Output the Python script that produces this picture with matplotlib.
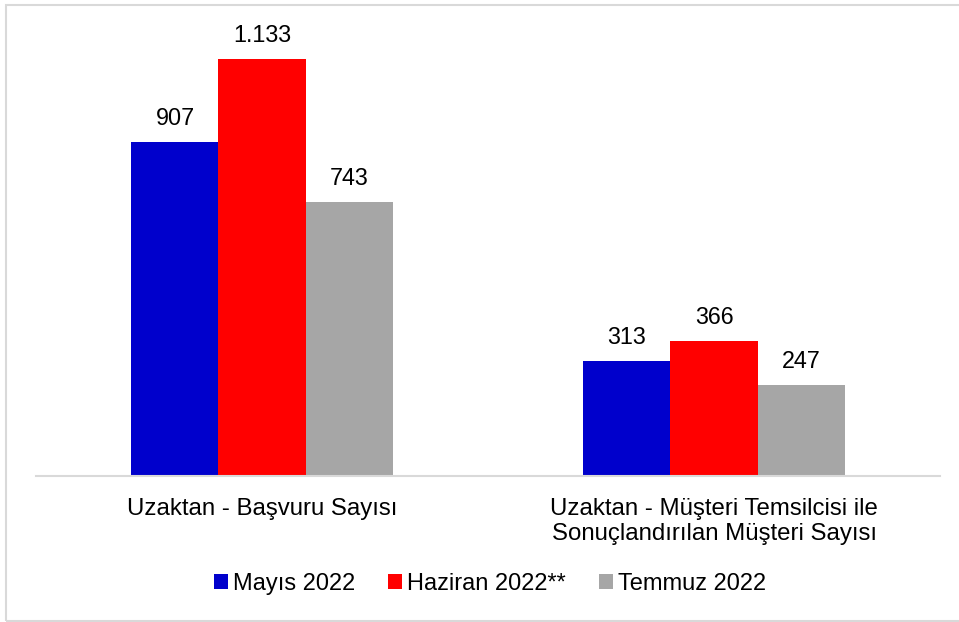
import numpy as np
import matplotlib.pyplot as plt
from matplotlib.patches import Patch, Rectangle

categories = ["Uzaktan - Başvuru Sayısı",
              "Uzaktan - Müşteri Temsilcisi ile\nSonuçlandırılan Müşteri Sayısı"]
series = ["Mayıs 2022", "Haziran 2022**", "Temmuz 2022"]
mayis = [907, 313]
haziran = [1133, 366]
temmuz = [743, 247]
labels_mayis = ["907", "313"]
labels_haziran = ["1.133", "366"]
labels_temmuz = ["743", "247"]

colors = ["#0000CC", "#FF0000", "#A6A6A6"]

plt.rcParams['font.family'] = ['Liberation Sans', 'DejaVu Sans']

fig = plt.figure(figsize=(9.59, 6.22), dpi=100)
# outer frame (right side runs off the picture)
fig.patches.append(Rectangle((6 / 959, 1 / 622), 1.05, 616 / 622, transform=fig.transFigure,
                             fill=False, edgecolor="#D9D9D9", linewidth=1.5))

ax = fig.add_axes([36 / 959, 1 - 476 / 622, 904 / 959, 442 / 622])

x = np.arange(len(categories))
w = 0.1925
values = [mayis, haziran, temmuz]
texts = [labels_mayis, labels_haziran, labels_temmuz]
for i, (vals, lbls) in enumerate(zip(values, texts)):
	bars = ax.bar(x + (i - 1) * w, vals, width=w, color=colors[i], label=series[i])
	for b, t in zip(bars, lbls):
		ax.annotate(t, (b.get_x() + b.get_width() / 2, b.get_height()),
		            xytext=(0, 12), textcoords="offset pixels",
		            ha="center", va="bottom", fontsize=16.8, color="#000000")

ax.set_xlim(-0.5, 1.5)
ax.set_ylim(0, 1200)
ax.set_yticks([])
ax.set_xticks(x)
ax.set_xticklabels(categories, fontsize=17.3, linespacing=1.2, va="top")
ax.tick_params(axis="x", length=0, pad=15.5)
for s in ["top", "right", "left"]:
	ax.spines[s].set_visible(False)
ax.spines["bottom"].set_color("#D9D9D9")
ax.spines["bottom"].set_linewidth(1.5)

handles = [Patch(facecolor=c) for c in colors]
fig.legend(handles, series, loc="center", bbox_to_anchor=(0.511, 1 - 584 / 622), ncol=3,
           frameon=False, fontsize=17, handlelength=0.6, handleheight=0.6,
           handletextpad=0.2, columnspacing=1.4)

fig.savefig("out.png", dpi=100)
